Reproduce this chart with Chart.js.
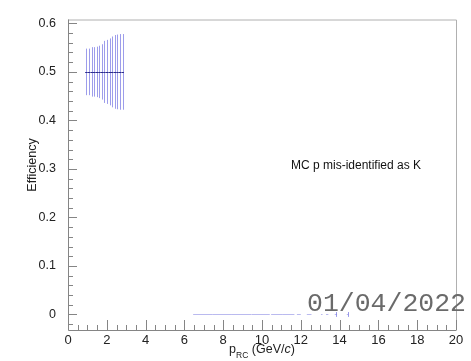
<!DOCTYPE html>
<html>
<head>
<meta charset="utf-8">
<script src="https://cdn.jsdelivr.net/npm/chart.js@4"></script>
<style>
html,body{margin:0;padding:0;background:#fff;}
#wrap{width:471px;height:361px;}
</style>
</head>
<body>
<div id="wrap"><canvas id="c" width="471" height="361"></canvas></div>
<script>
// efficiency points (p_RC bins with entries)
const effX    = [0.95,1.08,1.22,1.35,1.48,1.62,1.75,1.88,2.02,2.15,2.28,2.42,2.55,2.68,2.82];
const effY    = [0.5,0.5,0.5,0.5,0.5,0.5,0.5,0.5,0.5,0.5,0.5,0.5,0.5,0.5,0.5];
const effErr  = [0.048,0.048,0.051,0.051,0.052,0.054,0.057,0.064,0.066,0.069,0.073,0.076,0.077,0.078,0.078];
const effHalfW= [0.065,0.065,0.065,0.065,0.065,0.065,0.065,0.065,0.065,0.065,0.065,0.065,0.065,0.065,0.065];
// zero-efficiency bins at high p
const zeroX    = [6.95,7.95,8.95,9.93,10.77,11.37,11.9,12.43,13.08,13.36,13.81,14.41];
const zeroHalfW= [0.5,0.5,0.5,0.47,0.3,0.3,0.1,0.12,0.04,0.06,0.06,0.04];
const zeroErr  = [0,0,0,0,0,0,0,0,0,0,0.005,0.005];
const yTicks = [0,0.1,0.2,0.3,0.4,0.5,0.6];
const xTicks = [0,2,4,6,8,10,12,14,16,18,20];

const FONT = "'Liberation Sans', Arial, sans-serif";

const rootStyle = {
  id:'rootStyle',
  afterDatasetsDraw(chart){
    const {ctx, chartArea:a, scales:{x, y}} = chart;
    ctx.save();
    // frame
    ctx.lineWidth = 1;
    ctx.strokeStyle = '#b0b0b0';
    ctx.beginPath();
    ctx.moveTo(a.left, a.top+0.5); ctx.lineTo(a.right+0.5, a.top+0.5); ctx.lineTo(a.right+0.5, a.bottom);
    ctx.stroke();
    ctx.strokeStyle = '#858585';
    ctx.beginPath();
    ctx.moveTo(a.left+0.5, a.top); ctx.lineTo(a.left+0.5, a.bottom+0.5); ctx.lineTo(a.right+0.5, a.bottom+0.5);
    ctx.stroke();
    // ticks
    ctx.beginPath();
    for(let v=0; v<=20.001; v+=0.5){
      const px = Math.round(x.getPixelForValue(v))+0.5;
      const len = Math.abs(v/2-Math.round(v/2))<1e-6 ? 10 : 5;
      ctx.moveTo(px, a.bottom); ctx.lineTo(px, a.bottom-len);
    }
    for(let i=-1; i<=30; i++){
      const v = i*0.02;
      const py = Math.round(y.getPixelForValue(v))+0.5;
      const len = i%5===0 ? 9 : 5;
      ctx.moveTo(a.left, py); ctx.lineTo(a.left+len, py);
    }
    ctx.stroke();

    // error bars
    const bars = (xs, ys, ex, ey, hcol, vcol) => {
      ctx.strokeStyle = vcol;
      ctx.beginPath();
      xs.forEach((xv,i)=>{
        if(!ey[i]) return;
        const px = Math.round(x.getPixelForValue(xv))+0.5;
        ctx.moveTo(px, y.getPixelForValue(ys[i]+ey[i]));
        ctx.lineTo(px, y.getPixelForValue(ys[i]-ey[i]));
      });
      ctx.stroke();
      ctx.strokeStyle = hcol;
      ctx.beginPath();
      xs.forEach((xv,i)=>{
        const py = Math.round(y.getPixelForValue(ys[i]))+0.5;
        ctx.moveTo(x.getPixelForValue(xv-ex[i]), py);
        ctx.lineTo(x.getPixelForValue(xv+ex[i]), py);
      });
      ctx.stroke();
    };
    bars(effX, effY, effHalfW, effErr, '#2c2c8c', 'rgba(105,105,225,0.65)');
    bars(zeroX, zeroX.map(()=>0), zeroHalfW, zeroErr, 'rgba(130,130,225,0.55)', 'rgba(110,110,225,0.7)');

    // axis titles
    ctx.fillStyle = '#222';
    ctx.font = '12.5px '+FONT;
    ctx.save();
    ctx.translate(36, 165);
    ctx.rotate(-Math.PI/2);
    ctx.textAlign = 'center'; ctx.textBaseline = 'alphabetic';
    ctx.fillText('Efficiency', 0, 0);
    ctx.restore();

    const base = 353;
    const parts = [
      {t:'p', f:'12.5px '+FONT, dy:0},
      {t:'RC', f:'8.5px '+FONT, dy:5},
      {t:' (GeV/', f:'12.5px '+FONT, dy:0},
      {t:'c', f:'italic 12.5px '+FONT, dy:0},
      {t:')', f:'12.5px '+FONT, dy:0}
    ];
    let w = 0;
    parts.forEach(p=>{ ctx.font = p.f; p.w = ctx.measureText(p.t).width; w += p.w; });
    let cx = (a.left+a.right)/2 - w/2;
    ctx.textAlign = 'left';
    parts.forEach(p=>{ ctx.font = p.f; ctx.fillText(p.t, cx, base+p.dy); cx += p.w; });

    // annotation
    ctx.font = '12px '+FONT;
    ctx.fillStyle = '#111';
    ctx.fillText('MC p mis-identified as K', 291, 169);

    // date stamp
    ctx.font = "26.5px 'Liberation Mono', 'DejaVu Sans Mono', monospace";
    ctx.fillStyle = '#6a6a6a';
    ctx.textAlign = 'right';
    ctx.fillText('01/04/2022', 466, 311);
    ctx.restore();
  }
};

new Chart(document.getElementById('c'), {
  type:'scatter',
  data:{datasets:[
    {label:'eff', data:effX.map((v,i)=>({x:v, y:effY[i]})), pointRadius:0},
    {label:'zero', data:zeroX.map(v=>({x:v, y:0})), pointRadius:0}
  ]},
  options:{
    responsive:false,
    animation:false,
    layout:{padding:{top:9, right:15, left:0, bottom:0}},
    plugins:{legend:{display:false}, tooltip:{enabled:false}},
    scales:{
      x:{type:'linear', min:0, max:20,
        grid:{display:false, drawTicks:false}, border:{display:false},
        afterBuildTicks:s=>{ s.ticks = xTicks.map(v=>({value:v})); },
        afterFit:s=>{ s.height = 31; },
        ticks:{padding:3, color:'#222', font:{family:FONT, size:13}, maxRotation:0, autoSkip:false}},
      y:{type:'linear', min:-0.032, max:0.608,
        grid:{display:false, drawTicks:false}, border:{display:false},
        afterBuildTicks:s=>{ s.ticks = yTicks.map(v=>({value:v})); },
        afterFit:s=>{ s.width = 68; },
        ticks:{padding:12, color:'#222', font:{family:FONT, size:12.5}, callback:v=>String(+v.toFixed(1))}}
    }
  },
  plugins:[rootStyle]
});
</script>
</body>
</html>
